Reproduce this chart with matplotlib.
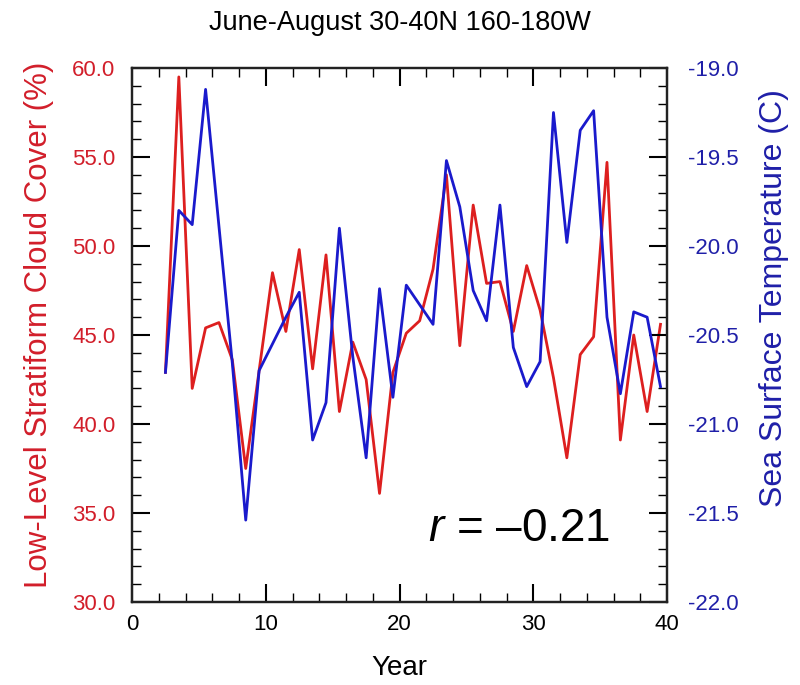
import matplotlib
matplotlib.use("Agg")
import matplotlib.pyplot as plt
from matplotlib.ticker import MultipleLocator, FormatStrFormatter

plt.rcParams['font.family'] = ['Liberation Sans', 'DejaVu Sans']
plt.rcParams['axes.unicode_minus'] = False
plt.rcParams['mathtext.fontset'] = 'custom'
plt.rcParams['mathtext.it'] = 'Liberation Sans:italic'
plt.rcParams['mathtext.rm'] = 'Liberation Sans'

years = [2.5 + i for i in range(38)]
cloud = [42.9, 59.5, 42.0, 45.4, 45.7, 43.6, 37.5, 43.0, 48.5, 45.2,
         49.8, 43.1, 49.5, 40.7, 44.6, 42.5, 36.1, 42.9, 45.1, 45.8,
         48.7, 54.0, 44.4, 52.3, 47.9, 48.0, 45.2, 48.9, 46.4, 42.6,
         38.1, 43.9, 44.9, 54.7, 39.1, 45.0, 40.7, 45.6]
sst = [-20.71, -19.80, -19.88, -19.12, -19.89, -20.66, -21.54, -20.70, -20.55, -20.40,
       -20.26, -21.09, -20.88, -19.90, -20.62, -21.19, -20.24, -20.85, -20.22, -20.33,
       -20.44, -19.52, -19.78, -20.25, -20.42, -19.77, -20.57, -20.79, -20.65, -19.25,
       -19.98, -19.35, -19.24, -20.40, -20.83, -20.37, -20.40, -20.79]

RED = '#dd1f1f'
RED_TXT = '#d21e2a'
BLUE = '#1a1acc'
BLUE_TXT = '#1f1fa8'

fig = plt.figure(figsize=(8, 6.85), dpi=100)
ax = fig.add_axes([0.165, 0.1212, 0.669, 0.7795])
ax2 = ax.twinx()

ax.plot(years, cloud, color=RED, lw=2.0, zorder=3)
ax2.plot(years, sst, color=BLUE, lw=2.0, zorder=3)

ax.set_xlim(0, 40)
ax.set_ylim(30, 60)
ax2.set_ylim(-22, -19)

ax.xaxis.set_major_locator(MultipleLocator(10))
ax.xaxis.set_minor_locator(MultipleLocator(2))
ax.yaxis.set_major_locator(MultipleLocator(5))
ax.yaxis.set_minor_locator(MultipleLocator(1))
ax.yaxis.set_major_formatter(FormatStrFormatter('%.1f'))
ax2.yaxis.set_major_locator(MultipleLocator(0.5))
ax2.yaxis.set_minor_locator(MultipleLocator(0.1))
ax2.yaxis.set_major_formatter(FormatStrFormatter('%.1f'))

ax.tick_params(axis='x', which='both', direction='in', top=True, bottom=True,
               labelsize=16, pad=9, width=1.5)
ax.tick_params(axis='x', which='major', length=13)
ax.tick_params(axis='x', which='minor', length=6.5, width=1.0)
ax.tick_params(axis='y', which='both', direction='in', left=True, right=False,
               labelsize=16, labelcolor=RED_TXT, pad=12, width=1.5)
ax.tick_params(axis='y', which='major', length=13)
ax.tick_params(axis='y', which='minor', length=6.5, width=1.0)
ax2.tick_params(axis='y', which='both', direction='in', right=True, left=False,
                labelsize=16, labelcolor=BLUE_TXT, pad=15, width=1.5)
ax2.tick_params(axis='y', which='major', length=13)
ax2.tick_params(axis='y', which='minor', length=6.5, width=1.0)

for a in (ax, ax2):
    for s in a.spines.values():
        s.set_linewidth(1.6)
        s.set_color('#222222')

ax.set_xlabel('Year', fontsize=20, labelpad=14)
ax.set_ylabel('Low-Level Stratiform Cloud Cover (%)', fontsize=22.5, color=RED_TXT)
ax2.set_ylabel('Sea Surface Temperature (C)', fontsize=23, color=BLUE_TXT)
ax.yaxis.set_label_coords(-0.146, 0.52)
ax2.yaxis.set_label_coords(1.172, 0.57)

fig.text(0.5, 0.967, 'June-August 30-40N 160-180W', ha='center', va='center', fontsize=19.5)

ax.text(0.893, 0.137, r'$r$ = –0.21', transform=ax.transAxes, ha='right', va='center',
        fontsize=33, color='black')

fig.savefig('out.png', dpi=100)
